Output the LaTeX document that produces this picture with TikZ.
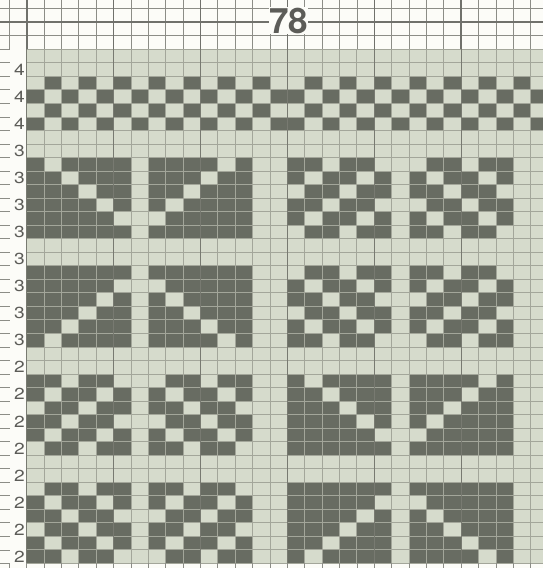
\documentclass[tikz,border=0pt]{standalone}
\usepackage{fontspec}
\newfontfamily\chartfont{TeX Gyre Heros}
\definecolor{paper}{RGB}{252,252,248}
\definecolor{pale}{RGB}{214,219,204}
\definecolor{shade}{RGB}{104,108,98}
\definecolor{rulegray}{RGB}{163,166,154}
\definecolor{rulebold}{RGB}{120,122,113}
\definecolor{paperrule}{RGB}{140,141,135}
\definecolor{printgray}{RGB}{92,92,88}
\tikzset{
  stitch/.style={fill=shade},
  gridln/.style={draw=rulegray, line width=0.9pt},
  gridbold/.style={draw=rulebold, line width=1.3pt},
  paperln/.style={draw=paperrule, line width=0.8pt},
  paperbold/.style={draw=paperrule!80!black, line width=1.6pt},
  rownum/.style={font=\chartfont\fontsize{16}{16}\selectfont, text=printgray,
                 inner sep=0pt, anchor=east, xscale=1.2},
  chartno/.style={font=\chartfont\bfseries\fontsize{35}{35}\selectfont, text=printgray,
                  fill=paper, inner sep=0.5pt},
}
% one repeat is 15 stitches: 13 of motif and 2 plain
\def\Va{1,0,1,1,1,1,0,1,1,1,1,0,1,0,0}
\def\Vb{1,1,0,1,1,1,0,1,1,1,0,1,1,0,0}
\def\Vc{1,1,1,0,1,1,0,1,1,0,1,1,1,0,0}
\def\Vd{1,1,1,1,0,1,0,1,0,1,1,1,1,0,0}
\def\Ve{1,1,1,1,1,0,0,0,1,1,1,1,1,0,0}
\def\Vf{1,1,1,1,1,1,0,1,1,1,1,1,1,0,0}
\def\Da{1,1,0,1,1,0,0,0,1,1,0,1,1,0,0}
\def\Db{1,0,1,1,0,1,0,1,0,1,1,0,1,0,0}
\def\Dc{0,1,1,0,1,1,0,1,1,0,1,1,0,0,0}
\def\Ta{0,1,0,1,0,1,0,1,0,1,0,1,0,1,0}
\def\Tb{1,0,1,0,1,0,1,0,1,0,1,0,1,0,1}

\begin{document}
\begin{tikzpicture}[x=1pt, y=-1pt]
  \clip (0,0) rectangle (543,568);
  \useasboundingbox (0,0) rectangle (543,568);
  \fill[paper] (0,0) rectangle (543,568);

  \begin{scope}[shift={(26.7,49.3)}, x=17.38pt, y=-13.53pt]
    % chart field
    \fill[pale] (0,0) rectangle (30,38);
    \foreach \rw/\mL/\mR in {3/Ta/Ta, 4/Tb/Tb, 5/Ta/Ta, 6/Tb/Tb,
        9/Va/Da, 10/Vb/Db, 11/Vc/Dc, 12/Vd/Da, 13/Ve/Db, 14/Vf/Dc,
        17/Vf/Dc, 18/Ve/Db, 19/Vd/Da, 20/Vc/Dc, 21/Vb/Db, 22/Va/Da,
        25/Da/Va, 26/Db/Vb, 27/Dc/Vc, 28/Da/Vd, 29/Db/Ve, 30/Dc/Vf,
        33/Dc/Vf, 34/Db/Ve, 35/Da/Vd, 36/Dc/Vc, 37/Db/Vb, 38/Da/Va}{
      \edef\lst{\csname\mL\endcsname}
      \foreach \bit [count=\col] in \lst
        {\ifnum\bit=1 \fill[stitch] (\col-1,\rw-1) rectangle (\col,\rw);\fi}
      \edef\lst{\csname\mR\endcsname}
      \foreach \bit [count=\col] in \lst
        {\ifnum\bit=1 \fill[stitch] (\col+14,\rw-1) rectangle (\col+15,\rw);\fi}
    }
    \foreach \k in {0,...,29} \draw[gridln] (\k,0) -- (\k,38);
    \foreach \j in {0,...,38} \draw[gridln] (0,\j) -- (30,\j);
    \foreach \k in {0,5,...,25} \draw[gridbold] (\k,0) -- (\k,38);

    % plain paper round the chart
    \foreach \k in {-1,...,29} {
      \draw[paperln] (\k,-4) -- (\k,0);
      \draw[paperln] (\k,38) -- (\k,39);
    }
    \foreach \j in {-3,-1} \draw[paperln] (-2,\j) -- (30,\j);
    \draw[paperbold] (-2,-2) -- (30,-2);
    \foreach \k in {0,5,...,25} \draw[paperbold] (\k,-4) -- (\k,0);
    \foreach \j in {0,...,38} \draw[paperln] (-2,\j) -- (-0.95,\j);

    % row numbers
    \foreach \rw in {2,4,...,38}{
      \ifnum\rw<7 \def\dg{4}\else\ifnum\rw<23 \def\dg{3}\else\def\dg{2}\fi\fi
      \node[rownum] (num\rw) at (-0.1,\rw-0.5) {\dg};
    }
  \end{scope}

  \node[chartno] (title) at (288.5,20.5) {78};
\end{tikzpicture}
\end{document}
